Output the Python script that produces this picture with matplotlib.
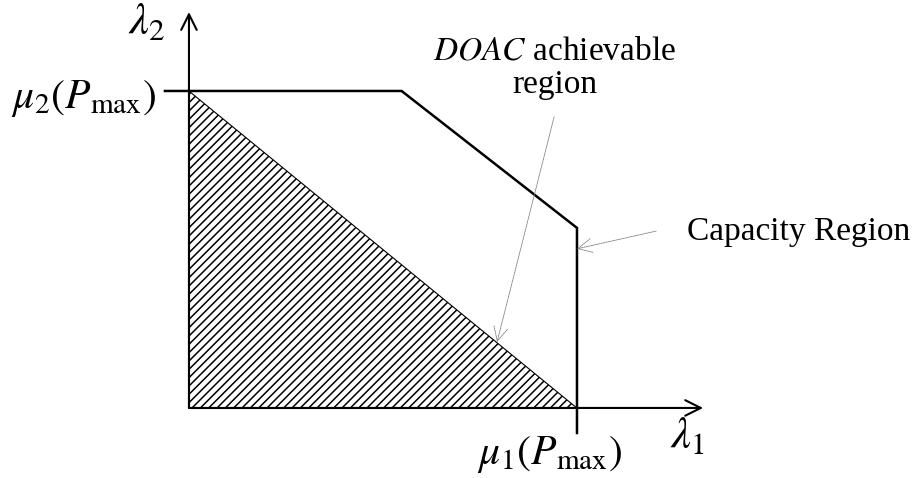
import numpy as np
import matplotlib.pyplot as plt
import matplotlib as mpl

mpl.rcParams['mathtext.fontset'] = 'stix'
mpl.rcParams['hatch.linewidth'] = 1.1
mpl.rcParams['font.family'] = ['Liberation Serif', 'DejaVu Serif']

# capacity region boundary (units: mu1(Pmax) = 1, mu2(Pmax) = 1)
cap_x = [-0.062, 0.548, 1.0, 1.0]
cap_y = [1.0, 1.0, 0.568, -0.079]

# DOAC achievable region (triangle)
doac_x = [0.0, 0.0, 1.0]
doac_y = [1.0, 0.0, 0.0]

# axis arrow ends
x_end = 1.325
y_end = 1.249

fig = plt.figure(figsize=(9.2, 4.78), dpi=100)
ax = fig.add_axes([0, 0, 1, 1])
ax.set_xlim(-0.487, 1.884)
ax.set_ylim(-0.221, 1.287)
ax.axis('off')

ax.fill(doac_x, doac_y, facecolor='white', edgecolor='black',
        hatch='////', lw=0.8)
ax.plot(cap_x, cap_y, color='black', lw=1.8, solid_joinstyle='miter')

# axes with arrows
ax.annotate('', xy=(x_end, 0), xytext=(0, 0),
            arrowprops=dict(arrowstyle='->', lw=1.5, color='black',
                            mutation_scale=28, shrinkA=0, shrinkB=0))
ax.annotate('', xy=(0, y_end), xytext=(0, 0),
            arrowprops=dict(arrowstyle='->', lw=1.5, color='black',
                            mutation_scale=28, shrinkA=0, shrinkB=0))

# labels
ax.text(-0.108, 1.215, r'$\lambda_2$', fontsize=32, ha='center', va='center')
ax.text(1.284, -0.091, r'$\lambda_1$', fontsize=32, ha='center', va='center')
ax.text(-0.273, 0.975, r'$\mu_2(P_{\max})$', fontsize=30, ha='center', va='center')
ax.text(0.93, -0.148, r'$\mu_1(P_{\max})$', fontsize=30, ha='center', va='center')

ax.text(0.943, 1.073, '$\\it{DOAC}$ achievable\nregion', fontsize=24,
        ha='center', va='center', linespacing=1.15)
ax.text(1.284, 0.555, 'Capacity Region', fontsize=24, ha='left', va='center')

# pointer arrows
ax.annotate('', xy=(0.794, 0.208), xytext=(0.941, 0.918),
            arrowprops=dict(arrowstyle='->', lw=0.6, color='#808080',
                            linestyle=(0, (2, 1)), mutation_scale=25,
                            shrinkA=0, shrinkB=0))
ax.annotate('', xy=(1.0, 0.502), xytext=(1.204, 0.558),
            arrowprops=dict(arrowstyle='->', lw=0.6, color='#808080',
                            linestyle=(0, (2, 1)), mutation_scale=25,
                            shrinkA=0, shrinkB=0))

plt.savefig('out.png', dpi=100)
